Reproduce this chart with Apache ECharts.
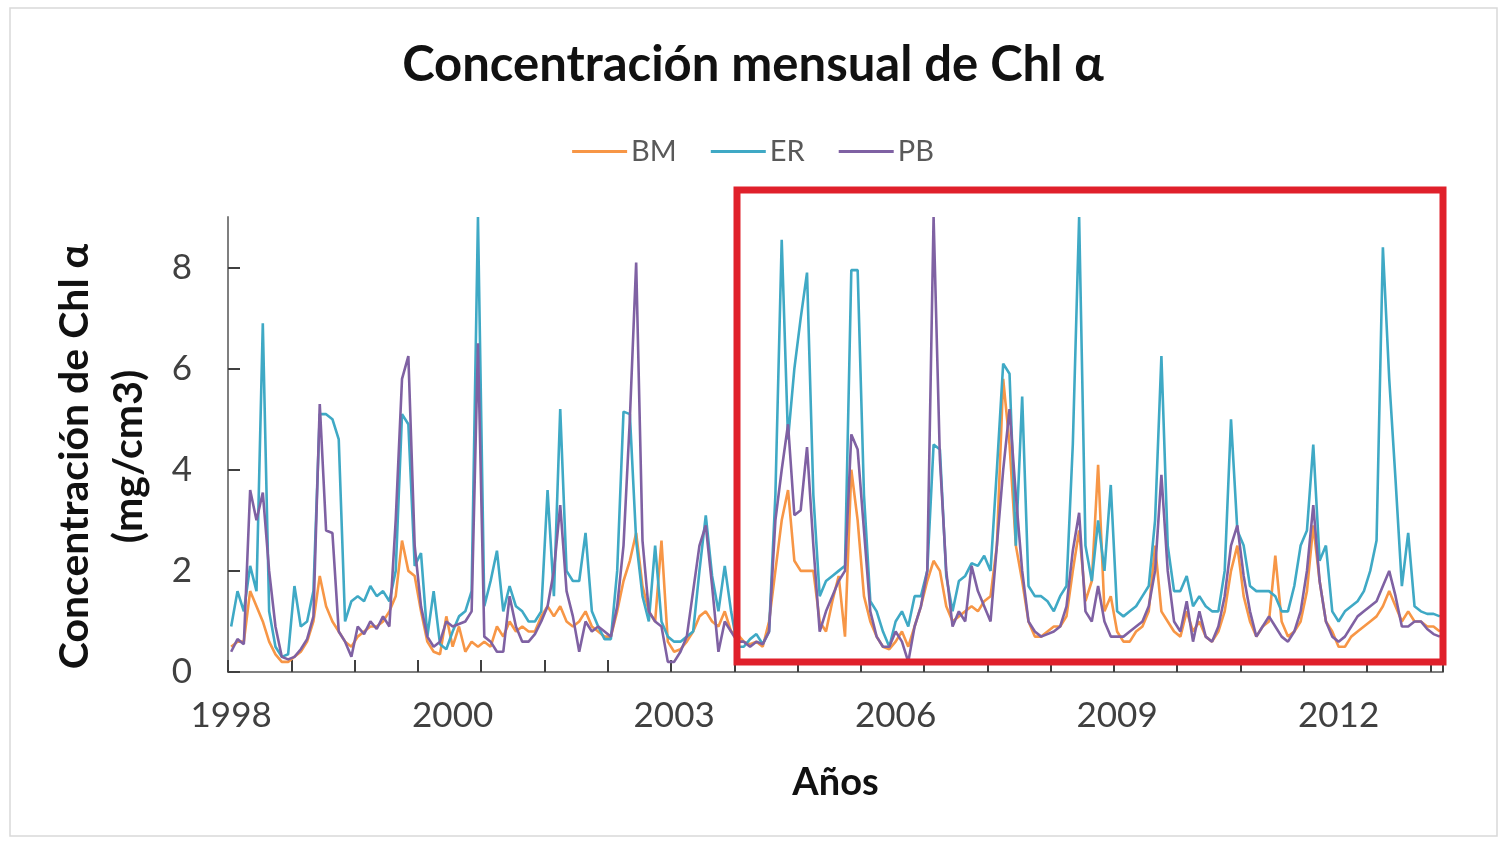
<!DOCTYPE html>
<html>
<head>
<meta charset="utf-8">
<script src="https://cdn.jsdelivr.net/npm/echarts@6/dist/echarts.min.js"></script>
<style>
html,body{margin:0;padding:0;background:#fff;}
#chart{width:1506px;height:842px;}
</style>
</head>
<body>
<div id="chart"></div>
<script>
// Monthly values, Jan 1998 .. Dec 2013 (192 months)
var years = [1998,1999,2000,2001,2002,2003,2004,2005,2006,2007,2008,2009,2010,2011,2012,2013];

var BM = [
  0.5,0.6,0.6,1.6,1.3,1.0,0.6,0.35,0.2,0.2,0.3,0.4,
  0.6,1.0,1.9,1.3,1.0,0.8,0.6,0.5,0.7,0.8,0.9,0.9,
  1.0,1.2,1.5,2.6,2.0,1.9,1.2,0.6,0.4,0.35,1.1,0.5,
  0.9,0.4,0.6,0.5,0.6,0.5,0.9,0.7,1.0,0.8,0.9,0.8,
  0.8,1.1,1.3,1.1,1.3,1.0,0.9,1.0,1.2,0.9,0.8,0.7,
  0.7,1.2,1.8,2.2,2.75,1.7,1.2,1.0,2.6,0.6,0.4,0.45,
  0.6,0.8,1.1,1.2,1.0,0.9,1.2,0.8,0.75,0.6,0.55,0.6,
  0.5,1.0,2.0,3.0,3.6,2.2,2.0,2.0,2.0,1.0,0.8,1.4,
  1.9,0.7,4.0,3.0,1.5,1.0,0.7,0.5,0.45,0.6,0.8,0.5,
  0.9,1.3,1.8,2.2,2.0,1.3,1.0,1.1,1.2,1.3,1.2,1.4,
  1.5,2.5,5.8,4.5,2.5,1.8,1.0,0.7,0.7,0.8,0.9,0.9,
  1.1,2.0,2.8,1.4,1.8,4.1,1.2,1.5,0.8,0.6,0.6,0.8,
  0.9,1.2,2.5,1.2,1.0,0.8,0.7,1.2,0.8,1.0,0.7,0.6,
  0.8,1.2,2.0,2.5,1.5,1.0,0.7,0.9,1.0,2.3,1.0,0.7,
  0.8,1.0,1.6,2.9,1.8,1.0,0.8,0.5,0.5,0.7,0.8,0.9,
  1.0,1.1,1.3,1.6,1.3,1.0,1.2,1.0,1.0,0.9,0.9,0.8
];

var ER = [
  0.9,1.6,1.2,2.1,1.6,6.9,1.2,0.5,0.3,0.35,1.7,0.9,
  1.0,1.6,5.1,5.1,5.0,4.6,1.0,1.4,1.5,1.4,1.7,1.5,
  1.6,1.4,2.0,5.1,4.9,2.1,2.35,0.7,1.6,0.55,0.45,0.8,
  1.1,1.2,1.6,9.0,1.3,1.8,2.4,1.2,1.7,1.3,1.2,1.0,
  1.0,1.2,3.6,1.5,5.2,2.0,1.8,1.8,2.75,1.2,0.9,0.65,
  0.65,2.0,5.15,5.1,2.6,1.5,1.0,2.5,1.0,0.7,0.6,0.6,
  0.7,0.8,2.0,3.1,1.9,1.2,2.1,1.2,0.5,0.5,0.65,0.75,
  0.55,0.8,3.5,8.55,4.6,6.0,7.0,7.9,3.5,1.5,1.8,1.9,
  2.0,2.1,7.95,7.95,3.5,1.4,1.2,0.8,0.5,1.0,1.2,0.9,
  1.5,1.5,2.0,4.5,4.4,1.9,1.2,1.8,1.9,2.15,2.1,2.3,
  2.0,4.0,6.1,5.9,2.5,5.45,1.7,1.5,1.5,1.4,1.2,1.5,
  1.7,4.5,9.0,2.5,1.8,3.0,2.0,3.7,1.2,1.1,1.2,1.3,
  1.5,1.7,3.0,6.25,2.5,1.6,1.6,1.9,1.3,1.5,1.3,1.2,
  1.2,2.0,5.0,2.8,2.5,1.7,1.6,1.6,1.6,1.5,1.2,1.2,
  1.7,2.5,2.8,4.5,2.2,2.5,1.2,1.0,1.2,1.3,1.4,1.6,
  2.0,2.6,8.4,5.8,3.8,1.7,2.75,1.3,1.2,1.15,1.15,1.1
];

var PB = [
  0.4,0.65,0.55,3.6,3.0,3.55,2.0,0.9,0.3,0.25,0.3,0.45,
  0.65,1.1,5.3,2.8,2.75,0.8,0.6,0.3,0.9,0.75,1.0,0.85,
  1.1,0.9,3.0,5.8,6.25,2.5,1.3,0.7,0.5,0.6,1.0,0.9,
  0.95,1.0,1.2,6.5,0.7,0.6,0.4,0.4,1.5,0.9,0.6,0.6,
  0.75,1.0,1.3,2.0,3.3,1.6,1.1,0.4,1.0,0.8,0.9,0.8,
  0.7,1.3,2.5,5.0,8.1,2.6,1.2,1.0,0.9,0.2,0.2,0.4,
  0.7,1.6,2.5,2.9,1.7,0.4,1.0,0.8,0.6,0.6,0.5,0.6,
  0.55,0.8,3.0,4.0,4.9,3.1,3.2,4.45,2.5,0.8,1.2,1.5,
  1.8,2.0,4.7,4.4,2.8,1.2,0.7,0.5,0.5,0.8,0.6,0.2,
  0.9,1.3,2.0,9.0,4.2,2.0,0.9,1.2,1.0,2.1,1.6,1.3,
  1.0,2.5,4.0,5.2,3.5,2.0,1.0,0.8,0.7,0.75,0.8,0.9,
  1.3,2.4,3.15,1.2,1.0,1.7,1.0,0.7,0.7,0.7,0.8,0.9,
  1.0,1.3,2.0,3.9,2.0,1.0,0.8,1.4,0.6,1.2,0.7,0.6,
  0.9,1.5,2.5,2.9,1.9,1.2,0.7,0.9,1.1,0.9,0.7,0.6,
  0.8,1.2,2.0,3.3,1.8,1.0,0.7,0.6,0.7,0.9,1.1,1.2,
  1.3,1.4,1.7,2.0,1.5,0.9,0.9,1.0,1.0,0.85,0.75,0.7
];

var yTicks = [0,2,4,6,8];

// category labels: the year of each month
var months = [];
years.forEach(function(y){ for (var m = 0; m < 12; m++) months.push(String(y)); });

var FONT = 'Lato';
var chart = echarts.init(document.getElementById('chart'), null, {renderer:'canvas'});
chart.setOption({
  backgroundColor:'#ffffff',
  animation:false,
  title:{
    text:'Concentración mensual de Chl α',
    left:'center', top:36,
    textStyle:{fontFamily:FONT, fontSize:49, fontWeight:'bold', color:'#111111'}
  },
  legend:{
    data:['BM','ER','PB'],
    top:132, left:'center',
    icon:'rect',
    itemWidth:55, itemHeight:3, itemGap:34,
    textStyle:{fontFamily:FONT, fontSize:29, color:'#595959', padding:[0,0,0,-1]}
  },
  grid:{left:228, right:63, top:217, bottom:170, containLabel:false},
  xAxis:{
    type:'category',
    data:months,
    boundaryGap:true,
    name:'Años', nameLocation:'middle', nameGap:92,
    nameTextStyle:{fontFamily:FONT, fontSize:38, fontWeight:'bold', color:'#111111'},
    axisLine:{lineStyle:{color:'#7f7f7f', width:2}},
    axisTick:{show:true, inside:true, length:12, interval:9, lineStyle:{color:'#404040', width:2}},
    axisLabel:{interval:34, fontFamily:FONT, fontSize:35, color:'#404040', margin:26},
    splitLine:{show:false}
  },
  yAxis:{
    type:'value', min:0, max:9,
    name:'Concentración de Chl α\n(mg/cm3)', nameLocation:'middle', nameGap:72, nameRotate:90,
    nameTextStyle:{fontFamily:FONT, fontSize:41, fontWeight:'bold', color:'#111111', lineHeight:54, align:'center', padding:[0,24,0,0]},
    axisLine:{show:true, lineStyle:{color:'#7f7f7f', width:2}},
    axisTick:{show:true, inside:true, length:12, customValues:yTicks, lineStyle:{color:'#404040', width:2}},
    axisLabel:{customValues:yTicks, fontFamily:FONT, fontSize:35, color:'#404040', margin:36},
    splitLine:{show:false}
  },
  series:[
    {name:'BM', type:'line', data:BM, symbol:'none', lineStyle:{width:2.6, color:'#F79646'}, itemStyle:{color:'#F79646'}},
    {name:'ER', type:'line', data:ER, symbol:'none', lineStyle:{width:2.6, color:'#3FA9C5'}, itemStyle:{color:'#3FA9C5'}},
    {name:'PB', type:'line', data:PB, symbol:'none', lineStyle:{width:2.6, color:'#7F61A3'}, itemStyle:{color:'#7F61A3'}}
  ],
  graphic:[
    {type:'rect', silent:true, z:100, shape:{x:737, y:190, width:706, height:472},
     style:{fill:null, stroke:'#E0202B', lineWidth:7}},
    {type:'rect', silent:true, z:-1, shape:{x:10, y:8, width:1487, height:828},
     style:{fill:null, stroke:'#d9d9d9', lineWidth:1.5}}
  ]
});
</script>
</body>
</html>
